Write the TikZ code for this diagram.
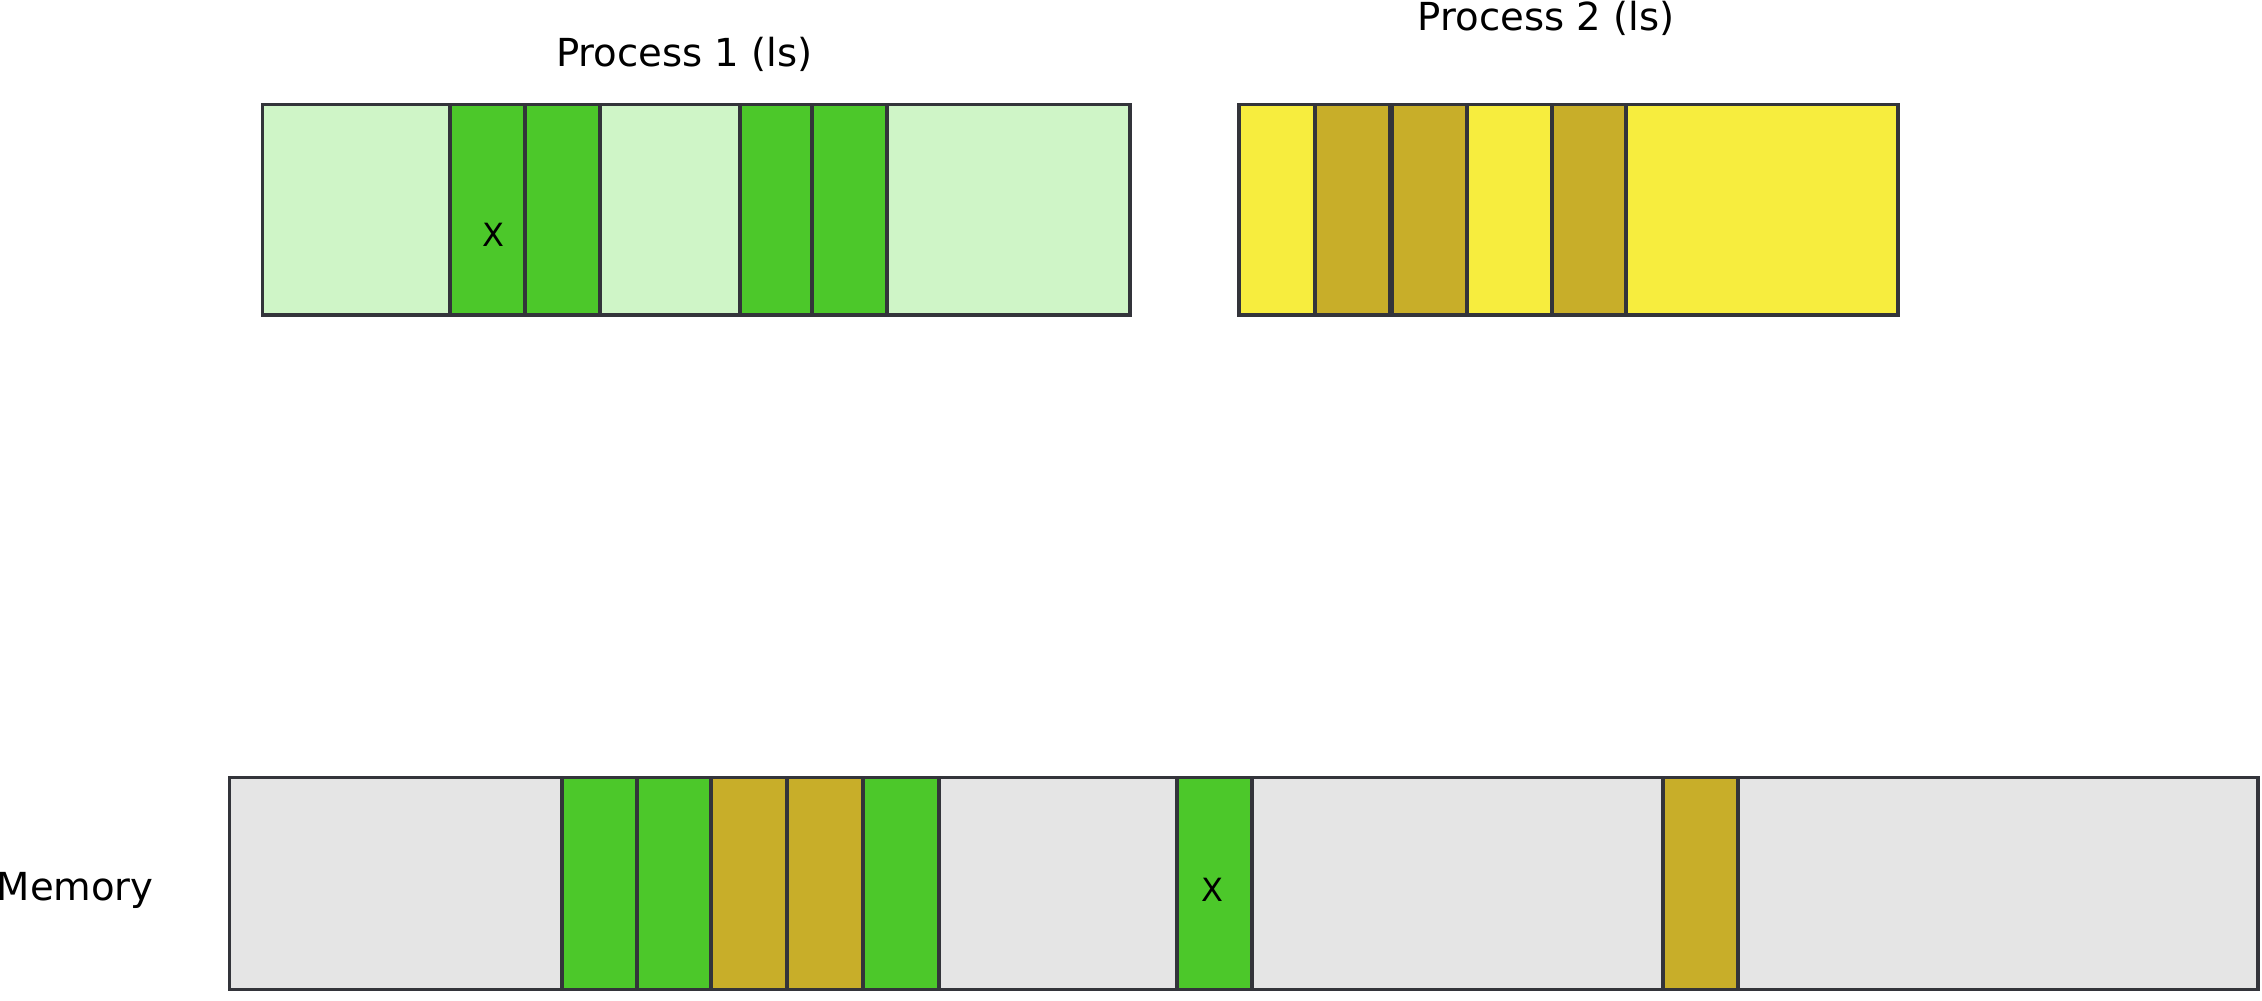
\documentclass[tikz,border=0pt]{standalone}
\usepackage{fontspec}
\setmainfont{DejaVu Sans}
\definecolor{bordc}{RGB}{51,52,58}
\definecolor{lightgreen}{RGB}{207,245,199}
\definecolor{cellgreen}{RGB}{76,200,42}
\definecolor{olive}{RGB}{200,174,41}
\definecolor{yell}{RGB}{247,237,62}
\definecolor{memgray}{RGB}{229,229,229}
\tikzset{
  box/.style={draw=bordc, line width=3.6pt, inner sep=0pt, outer sep=0pt, anchor=north west, minimum height=210.5pt},
  lbl/.style={inner sep=0pt, anchor=base, font=\fontsize{38.6}{46}\selectfont},
  xlbl/.style={inner sep=0pt, anchor=base, font=\fontsize{32}{38}\selectfont},
}
\begin{document}
\begin{tikzpicture}[x=1pt,y=-1pt]
\useasboundingbox (0,0) rectangle (2262,1001);
% Process 1
\node[box, fill=lightgreen, minimum width=867.5pt] (p1) at (262.5,104.3) {};
\node[box, fill=cellgreen, minimum width=75pt] (p1a) at (450,104.3) {};
\node[box, fill=cellgreen, minimum width=75pt] (p1b) at (525,104.3) {};
\node[box, fill=cellgreen, minimum width=72pt] (p1c) at (740,104.3) {};
\node[box, fill=cellgreen, minimum width=75pt] (p1d) at (812,104.3) {};
\node[xlbl] (p1x) at (493.5,246.5) {X};
\node[lbl] (p1t) at (684.5,66.5) {Process 1 (ls)};
% Process 2
\node[box, fill=yell, minimum width=659pt] (p2) at (1239,104.3) {};
\node[box, fill=olive, minimum width=75pt] (p2a) at (1315,104.3) {};
\node[box, fill=olive, minimum width=75pt] (p2b) at (1392,104.3) {};
\node[box, fill=olive, minimum width=74pt] (p2c) at (1552,104.3) {};
\node[lbl] (p2t) at (1546,30.5) {Process 2 (ls)};
% Memory
\node[box, fill=memgray, minimum width=2028.5pt, minimum height=212pt] (mem) at (229.5,777.5) {};
\node[box, fill=cellgreen, minimum width=75pt, minimum height=212pt] (m1) at (562,777.5) {};
\node[box, fill=cellgreen, minimum width=74pt, minimum height=212pt] (m2) at (637,777.5) {};
\node[box, fill=olive, minimum width=76pt, minimum height=212pt] (m3) at (711,777.5) {};
\node[box, fill=olive, minimum width=76pt, minimum height=212pt] (m4) at (787,777.5) {};
\node[box, fill=cellgreen, minimum width=76pt, minimum height=212pt] (m5) at (863,777.5) {};
\node[box, fill=cellgreen, minimum width=75pt, minimum height=212pt] (m6) at (1177,777.5) {};
\node[box, fill=olive, minimum width=75pt, minimum height=212pt] (m7) at (1663,777.5) {};
\node[xlbl] (mx) at (1212,901) {X};
\node[inner sep=0pt, anchor=base west, font=\fontsize{38.6}{46}\selectfont] (memt) at (-3.5,900) {Memory};
\end{tikzpicture}
\end{document}
